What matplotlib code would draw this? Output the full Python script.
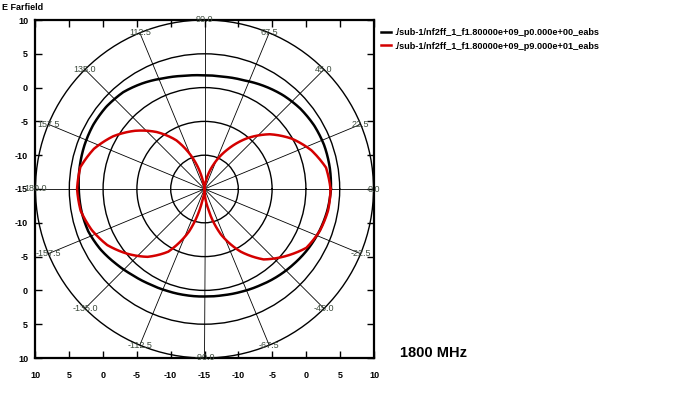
import numpy as np
import matplotlib
matplotlib.use("Agg")
import matplotlib.pyplot as plt

# ---- data ----
angles_deg = [0, 10, 20, 30, 40, 50, 60, 70, 80, 90, 100, 110, 120, 130, 140, 150, 160, 170,
              180, 190, 200, 210, 220, 230, 240, 250, 260, 270, 280, 290, 300, 310, 320, 330, 340, 350]
phi0_db = [3.7, 3.8, 3.85, 3.75, 3.5, 3.1, 2.6, 2.1, 1.85, 1.8, 2.0, 2.45, 3.1, 3.7, 3.95, 4.0, 3.9, 3.75,
           3.6, 3.5, 3.3, 2.8, 2.15, 1.6, 1.25, 1.05, 0.95, 0.9, 0.95, 1.15, 1.45, 1.85, 2.25, 2.7, 3.1, 3.45]
phi90_db = [3.65, 3.25, 1.8, -0.1, -2.4, -5.2, -8.3, -11.2, -13.8, -15.0, -14.2, -10.4, -6.7, -4.0, -1.6, 0.6, 2.4, 3.65,
            3.85, 3.6, 2.75, 1.6, -0.1, -1.9, -4.3, -8.3, -13.5, -15.0, -12.2, -7.8, -4.3, -1.4, 0.5, 2.4, 3.15, 3.55]
series_labels = ["./sub-1/nf2ff_1_f1.80000e+09_p0.000e+00_eabs",
                 "./sub-1/nf2ff_1_f1.80000e+09_p9.000e+01_eabs"]
series_colors = ["#000000", "#d40000"]
r_min, r_max = -15, 10
grid_db = [-10, -5, 0, 5, 10]
theta_ticks_deg = [0, 22.5, 45, 67.5, 90, 112.5, 135, 157.5, 180, 202.5, 225, 247.5, 270, 292.5, 315, 337.5]
theta_tick_labels = ["0.0", "22.5", "45.0", "67.5", "90.0", "112.5", "135.0", "157.5", "180.0",
                     "-157.5", "-135.0", "-112.5", "-90.0", "-67.5", "-45.0", "-22.5"]
axis_tick_labels = ["10", "5", "0", "-5", "-10", "-15", "-10", "-5", "0", "5", "10"]

plt.rcParams['font.family'] = ['Liberation Sans', 'DejaVu Sans']

W, H = 700, 393
fig = plt.figure(figsize=(W / 100, H / 100), dpi=100)
rect = [35 / W, (H - 358) / H, 339 / W, 338 / H]

# Cartesian frame with mirrored dB scale
ax = fig.add_axes(rect)
span = r_max - r_min
ax.set_xlim(-span, span)
ax.set_ylim(-span, span)
ticks = np.linspace(-span, span, len(axis_tick_labels))
ax.set_xticks(ticks)
ax.set_xticklabels(axis_tick_labels)
ax.set_yticks(ticks)
ax.set_yticklabels(axis_tick_labels[::-1])
ax.tick_params(direction='in', length=5, width=1, top=True, right=True,
               labelsize=6.5, colors='black')
ax.tick_params(axis='x', pad=9)
ax.tick_params(axis='y', pad=5)
for lab in ax.get_xticklabels() + ax.get_yticklabels():
    lab.set_fontweight('bold')
for s in ax.spines.values():
    s.set_linewidth(1.6)
ax.set_zorder(1)

# Polar plot
pax = fig.add_axes(rect, projection='polar')
pax.set_facecolor('none')
pax.set_zorder(2)
pax.set_theta_zero_location('E')
pax.set_ylim(r_min, r_max)
pax.set_rgrids(grid_db[:-1], labels=[''] * (len(grid_db) - 1))
pax.set_thetagrids(theta_ticks_deg, labels=[''] * len(theta_ticks_deg))
pax.grid(axis='x', color='black', linewidth=0.6)
pax.grid(axis='y', color='black', linewidth=1.0)
pax.spines['polar'].set_linewidth(1.0)
pax.tick_params(length=0)

# close each curve by repeating the first sample one full turn later
th = np.deg2rad(np.r_[angles_deg, angles_deg[0] + 360])
handles = []
for vals, col, lab in zip([phi0_db, phi90_db], series_colors, series_labels):
    v = np.clip(np.r_[vals, vals[0]], r_min, r_max)
    ln, = pax.plot(th, v, color=col, linewidth=1.8, label=lab, zorder=5)
    # draw segments as smooth arcs in polar space (rendering only)
    ln.get_path()._interpolation_steps = 30
    handles.append(ln)

for ang, lab in zip(theta_ticks_deg, theta_tick_labels):
    pax.text(np.deg2rad(ang), r_max, lab, ha='center', va='center',
             fontsize=6.5, color='#3c4a3c', zorder=6)

fig.legend(handles=handles, labels=series_labels, loc='upper left',
           bbox_to_anchor=(381 / W, 1 - 28 / H), frameon=False,
           handlelength=1.1, handletextpad=0.4, labelspacing=0.5,
           prop={'size': 6.6, 'weight': 'bold'}, borderaxespad=0, borderpad=0)

fig.text(2 / W, 1 - 7 / H, "E Farfield", fontsize=6.5, fontweight='bold',
         ha='left', va='center')
fig.text(400 / W, 1 - 353 / H, "1800 MHz", fontsize=10.5, fontweight='bold',
         ha='left', va='center')

fig.savefig("out.png", dpi=100)
